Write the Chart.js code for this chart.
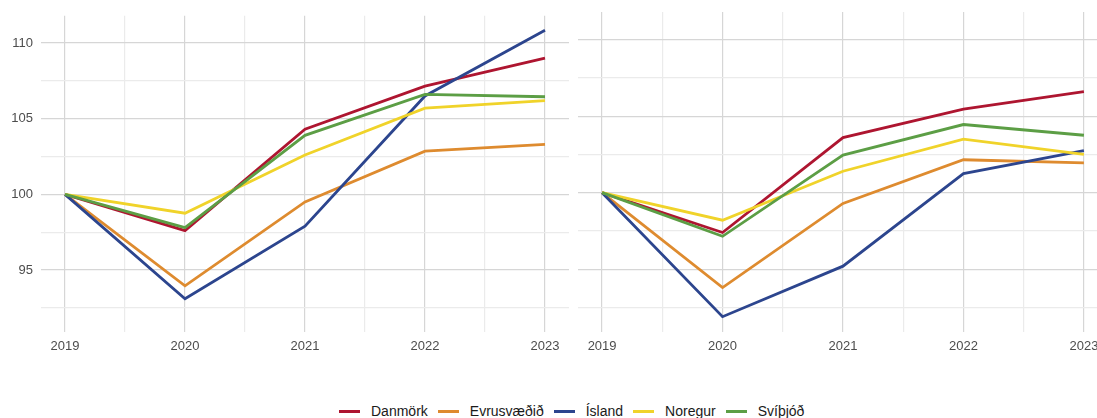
<!DOCTYPE html>
<html lang="is">
  <head>
    <meta charset="UTF-8" />
    <title>Vísitala 2019 = 100</title>
    <script src="https://cdn.jsdelivr.net/npm/chart.js"></script>
    <style>
      html, body { margin: 0; padding: 0; background: #fff; overflow: hidden; }
      body { width: 1097px; height: 418px; position: relative; font-family: "Liberation Sans", Arial, sans-serif; }
      .panel { position: absolute; top: 0; height: 360px; }
      #left { left: 0; width: 572px; }
      #right { left: 575px; width: 536px; }
      #legend {
        position: absolute; top: 403px; left: 339px;
        display: flex; align-items: center; font-size: 14px; color: #1a1a1a; white-space: nowrap;
      }
      .item { display: flex; align-items: center; margin-right: 10px; }
      .swatch { width: 21px; height: 3px; margin-right: 11px; }
    </style>
  </head>
  <body>
    <div class="panel" id="left"><canvas id="leftChart"></canvas></div>
    <div class="panel" id="right"><canvas id="rightChart"></canvas></div>
    <div id="legend"></div>

    <script>
      const years = [2019, 2020, 2021, 2022, 2023];
      const series = ["Danmörk", "Evrusvæðið", "Ísland", "Noregur", "Svíþjóð"];
      const colors = ["#ae1530", "#de8b2f", "#2c458e", "#f0d32a", "#5c9e45"];

      // vinstri mynd
      const leftValues = [
        [100, 97.6, 104.3, 107.15, 109.0],
        [100, 93.95, 99.5, 102.85, 103.3],
        [100, 93.1, 97.9, 106.5, 110.85],
        [100, 98.75, 102.6, 105.7, 106.2],
        [100, 97.8, 103.9, 106.6, 106.45]
      ];
      // hægri mynd
      const rightValues = [
        [100, 97.4, 103.6, 105.45, 106.6],
        [100, 93.8, 99.3, 102.15, 101.95],
        [100, 91.9, 95.2, 101.25, 102.75],
        [100, 98.2, 101.4, 103.5, 102.5],
        [100, 97.15, 102.45, 104.45, 103.75]
      ];

      const yGrid = [92.5, 95, 97.5, 100, 102.5, 105, 107.5, 110];
      const xGrid = [2019, 2019.5, 2020, 2020.5, 2021, 2021.5, 2022, 2022.5, 2023];

      const gridColor = (ctx, step) =>
        ctx.tick && ctx.tick.value % step === 0 ? "#d6d6d6" : "#ebebeb";

      function makeChart(id, values, showY) {
        const datasets = series.map((name, i) => ({
          label: name,
          data: years.map((yr, j) => ({ x: yr, y: values[i][j] })),
          borderColor: colors[i],
          backgroundColor: colors[i],
          borderWidth: 2.8,
          pointRadius: 0,
          tension: 0,
          order: series.length - i
        }));

        return new Chart(document.getElementById(id), {
          type: "line",
          data: { datasets },
          options: {
            responsive: true,
            maintainAspectRatio: false,
            animation: false,
            layout: { padding: { top: 12, right: 3, left: showY ? 0 : 3 } },
            plugins: { legend: { display: false }, tooltip: { enabled: false } },
            scales: {
              x: {
                type: "linear",
                min: 2018.8,
                max: 2023.2,
                afterBuildTicks: (s) => { s.ticks = xGrid.map((v) => ({ value: v })); },
                afterFit: (s) => { s.height = 28; },
                border: { display: false },
                grid: { color: (c) => gridColor(c, 1), lineWidth: 1.2, drawTicks: false },
                ticks: {
                  padding: 7,
                  autoSkip: false,
                  maxRotation: 0,
                  color: "#4d4d4d",
                  font: { family: "'Liberation Sans', Arial, sans-serif", size: 13 },
                  callback: (v) => (v % 1 === 0 ? String(v) : "")
                }
              },
              y: {
                min: 90.9,
                max: 111.8,
                afterBuildTicks: (s) => { s.ticks = yGrid.map((v) => ({ value: v })); },
                afterFit: (s) => { s.width = showY ? 41 : 0; },
                border: { display: false },
                grid: { color: (c) => gridColor(c, 5), lineWidth: 1.2, drawTicks: false },
                ticks: {
                  display: showY,
                  padding: 8,
                  color: "#4d4d4d",
                  font: { family: "'Liberation Sans', Arial, sans-serif", size: 13 },
                  callback: (v) => (v % 5 === 0 ? String(v) : "")
                }
              }
            }
          }
        });
      }

      makeChart("leftChart", leftValues, true);
      makeChart("rightChart", rightValues, false);

      const legend = document.getElementById("legend");
      series.forEach((name, i) => {
        const item = document.createElement("div");
        item.className = "item";
        const sw = document.createElement("span");
        sw.className = "swatch";
        sw.style.background = colors[i];
        const txt = document.createElement("span");
        txt.textContent = name;
        item.appendChild(sw);
        item.appendChild(txt);
        legend.appendChild(item);
      });
    </script>
  </body>
</html>
